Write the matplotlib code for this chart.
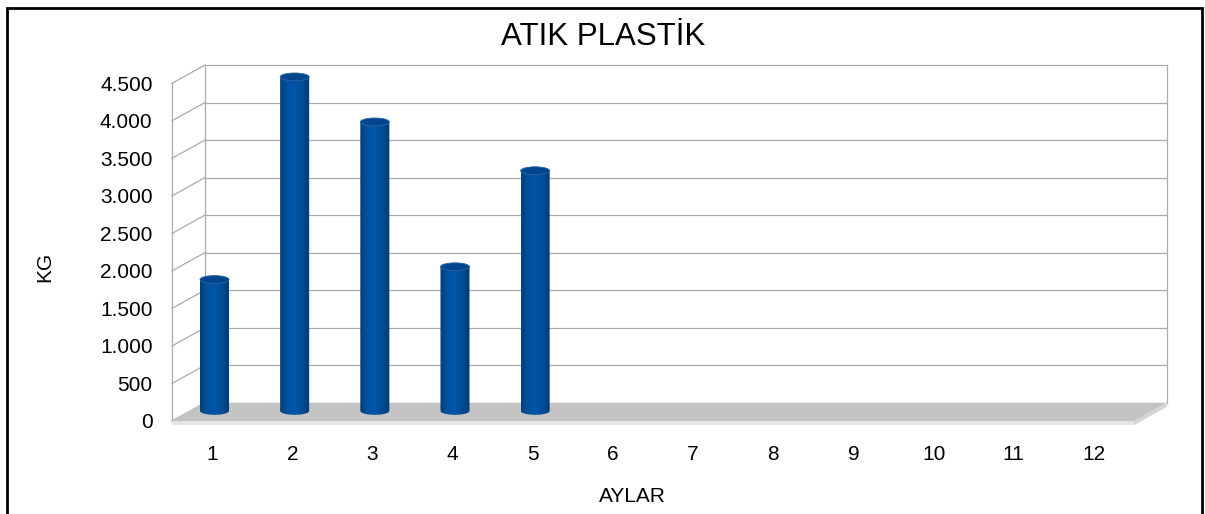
import numpy as np
import matplotlib
matplotlib.use('Agg')
import matplotlib.pyplot as plt
from matplotlib.patches import Polygon, Ellipse, Rectangle, PathPatch
from matplotlib.path import Path
from matplotlib.colors import LinearSegmentedColormap

# chart data
months = list(range(1, 13))
month_labels = [str(m) for m in months]
values = [1750, 4450, 3850, 1920, 3200]   # only first five months filled
y_ticks = list(range(0, 5000, 500))
y_tick_labels = ['{:,}'.format(v).replace(',', '.') for v in y_ticks]

title = 'ATIK PLASTİK'
x_title = 'AYLAR'
y_title = 'KG'

plt.rcParams['font.family'] = ['Liberation Sans', 'DejaVu Sans']

W, H = 1205, 514
fig = plt.figure(figsize=(W / 100, H / 100), dpi=100)

# front plane of the 3d box, in pixels (0 -> 421 px, 4500 -> 83.3 px)
left_px, right_px = 172, 1134
bot_px, top_px = 421, 83.3
ymax = 4500
ylim_top = 5200          # extra room so the tallest cylinder isn't clipped
px_per_unit = (bot_px - top_px) / ymax
ax = fig.add_axes([left_px / W, 1 - bot_px / H,
                   (right_px - left_px) / W, ylim_top * px_per_unit / H])
xmin, xmax = 0.5, 12.5
ax.set_xlim(xmin, xmax)
ax.set_ylim(0, ylim_top)

# depth offset of the back wall (data units)
dx = 33 / ((right_px - left_px) / 12)
dy = 18.3 / px_per_unit

grid_c = '#ABABAB'
grid_lw = 0.9

# floor with its thickness
thick = 55
ax.add_patch(Polygon([(xmin, 0), (xmax, 0), (xmax + dx, dy), (xmin + dx, dy)],
                     closed=True, fc='#C3C3C3', ec='none', zorder=1, clip_on=False))
ax.add_patch(Polygon([(xmin, 0), (xmax, 0), (xmax, -thick), (xmin, -thick)],
                     closed=True, fc='#E4E4E4', ec='none', zorder=1, clip_on=False))
ax.add_patch(Polygon([(xmax, 0), (xmax + dx, dy), (xmax + dx, dy - thick), (xmax, -thick)],
                     closed=True, fc='#D4D4D4', ec='none', zorder=1, clip_on=False))

# back wall grid and side wall
for v in y_ticks[1:]:
    ax.plot([xmin + dx, xmax + dx], [v + dy, v + dy], color=grid_c, lw=grid_lw,
            zorder=0.5, clip_on=False)
for v in y_ticks:
    ax.plot([xmin, xmin + dx], [v, v + dy], color=grid_c, lw=grid_lw,
            zorder=0.5, clip_on=False)
ax.plot([xmin + dx, xmin + dx], [dy, ymax + dy], color=grid_c, lw=grid_lw, zorder=0.5, clip_on=False)
ax.plot([xmax + dx, xmax + dx], [dy, ymax + dy], color=grid_c, lw=grid_lw, zorder=0.5, clip_on=False)
ax.plot([xmin, xmin], [0, ymax], color=grid_c, lw=grid_lw, zorder=0.5, clip_on=False)

# cylinders
cyl_cmap = LinearSegmentedColormap.from_list(
    'cyl', ['#003F7E', '#0052A0', '#0056A8', '#004C95', '#003A74'])
half_w = 0.181
base = 135
eh = 105
shift = 0.03
grad = np.linspace(0, 1, 64).reshape(1, -1)
for m, v in zip(months, values):
    cx = m + shift
    top = base + v
    verts = [(cx - half_w, top), (cx - half_w, base)]
    t = np.linspace(np.pi, 2 * np.pi, 30)
    verts += [(cx + half_w * np.cos(a), base + eh / 2 * np.sin(a)) for a in t]
    verts += [(cx + half_w, top), (cx - half_w, top)]
    body = PathPatch(Path(verts), fc='none', ec='none', zorder=3)
    ax.add_patch(body)
    im = ax.imshow(grad, cmap=cyl_cmap, aspect='auto', zorder=3,
                   extent=[cx - half_w, cx + half_w, base - eh, top],
                   interpolation='bilinear')
    im.set_clip_path(body)
    ax.add_patch(Ellipse((cx, top), 2 * half_w, eh, fc='#00468C',
                         ec='#2A66A8', lw=0.6, zorder=4))

ax.set_xlim(xmin, xmax)
ax.set_ylim(0, ylim_top)

for s in ax.spines.values():
    s.set_visible(False)
ax.set_facecolor('none')
ax.set_yticks(y_ticks)
ax.set_yticklabels(y_tick_labels, fontsize=15)
ax.set_xticks(months)
ax.set_xticklabels(month_labels, fontsize=15)
ax.tick_params(axis='y', length=0, pad=14)
ax.tick_params(axis='x', length=0, pad=17)

fig.text(603 / W, 1 - 37 / H, title, fontsize=22.5, ha='center', va='center')
fig.text(632 / W, 1 - 496 / H, x_title, fontsize=15, ha='center', va='center')
fig.text(45 / W, 1 - 267 / H, y_title, fontsize=15, ha='center', va='center',
         rotation=90)

# outer chart border
fig.add_artist(Rectangle((7 / W, -0.1), (1202 - 7) / W, 1 - 8 / H + 0.1,
                         transform=fig.transFigure, fill=False, ec='black', lw=2))

fig.savefig('out.png', dpi=100)
